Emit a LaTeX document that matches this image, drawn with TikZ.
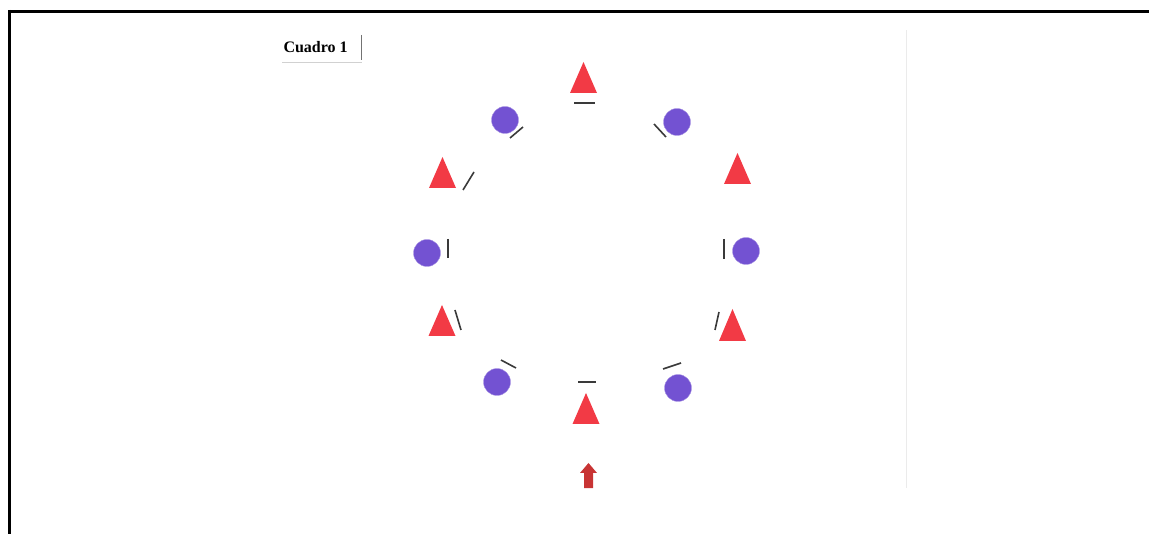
\documentclass[tikz,border=0pt]{standalone}
\usepackage{fontspec}
\setmainfont{Liberation Serif}
\usetikzlibrary{arrows.meta,positioning}
\definecolor{trired}{HTML}{F23A45}
\definecolor{dotviolet}{HTML}{7352D2}
\definecolor{arrowred}{HTML}{C83434}
\definecolor{slashgray}{HTML}{3A3A3A}

\begin{document}
\begin{tikzpicture}[x=1pt, y=-1pt,
    tri/.style={fill=trired},
    dot/.style={circle, fill=dotviolet, draw=dotviolet!60!white, thin,
        minimum size=27pt, inner sep=0pt},
    slash/.style={draw=slashgray, line width=1.6pt},
    frame/.style={draw=black, line width=3pt},
]
\useasboundingbox (0,0) rectangle (1149,534);

% Frame
\draw[frame] (8,11.5) -- (1149,11.5);
\draw[frame] (9.5,10) -- (9.5,534);
\draw[black!8, line width=1pt] (906,30) -- (906,488);

% Title
\node[font=\fontsize{16}{19}\selectfont\bfseries, anchor=west] (title) at (280,47) {Cuadro 1};
\draw[black!55, line width=1pt] (361,35) -- (361,60);
\draw[black!18, line width=1pt] (282,62.5) -- (362,62.5);

% Triangles
\fill[tri] (570,93) -- (583.5,62) -- (597,93) -- cycle;
\fill[tri] (429,188) -- (442.5,157) -- (456,188) -- cycle;
\fill[tri] (724,184) -- (737.5,153) -- (751,184) -- cycle;
\fill[tri] (428.5,336) -- (442,305) -- (455.5,336) -- cycle;
\fill[tri] (719,341) -- (732.5,309) -- (746,341) -- cycle;
\fill[tri] (572.5,424) -- (586,393) -- (599.5,424) -- cycle;

% Circles
\node[dot] (c1) at (505,120) {};
\node[dot] (c2) at (677,122) {};
\node[dot] (c3) at (427,253) {};
\node[dot] (c4) at (746,251) {};
\node[dot] (c5) at (497,382) {};
\node[dot] (c6) at (678,388) {};

% Slashes
\draw[slash] (574,103) -- (595,103);
\draw[slash] (510,138) -- (523,127);
\draw[slash] (654,124) -- (666,137);
\draw[slash] (463,190) -- (474,172);
\draw[slash] (448,239) -- (448,258);
\draw[slash] (724,239) -- (724,259);
\draw[slash] (455,310) -- (461,330);
\draw[slash] (715,330) -- (719,312);
\draw[slash] (501,360) -- (516,368);
\draw[slash] (663,369) -- (681,363);
\draw[slash] (578,382) -- (596,382);

% Arrow
\fill[arrowred] (588.5,463) -- (597,473) -- (593,473) -- (593,488)
    -- (584,488) -- (584,473) -- (580,473) -- cycle;

\end{tikzpicture}
\end{document}
